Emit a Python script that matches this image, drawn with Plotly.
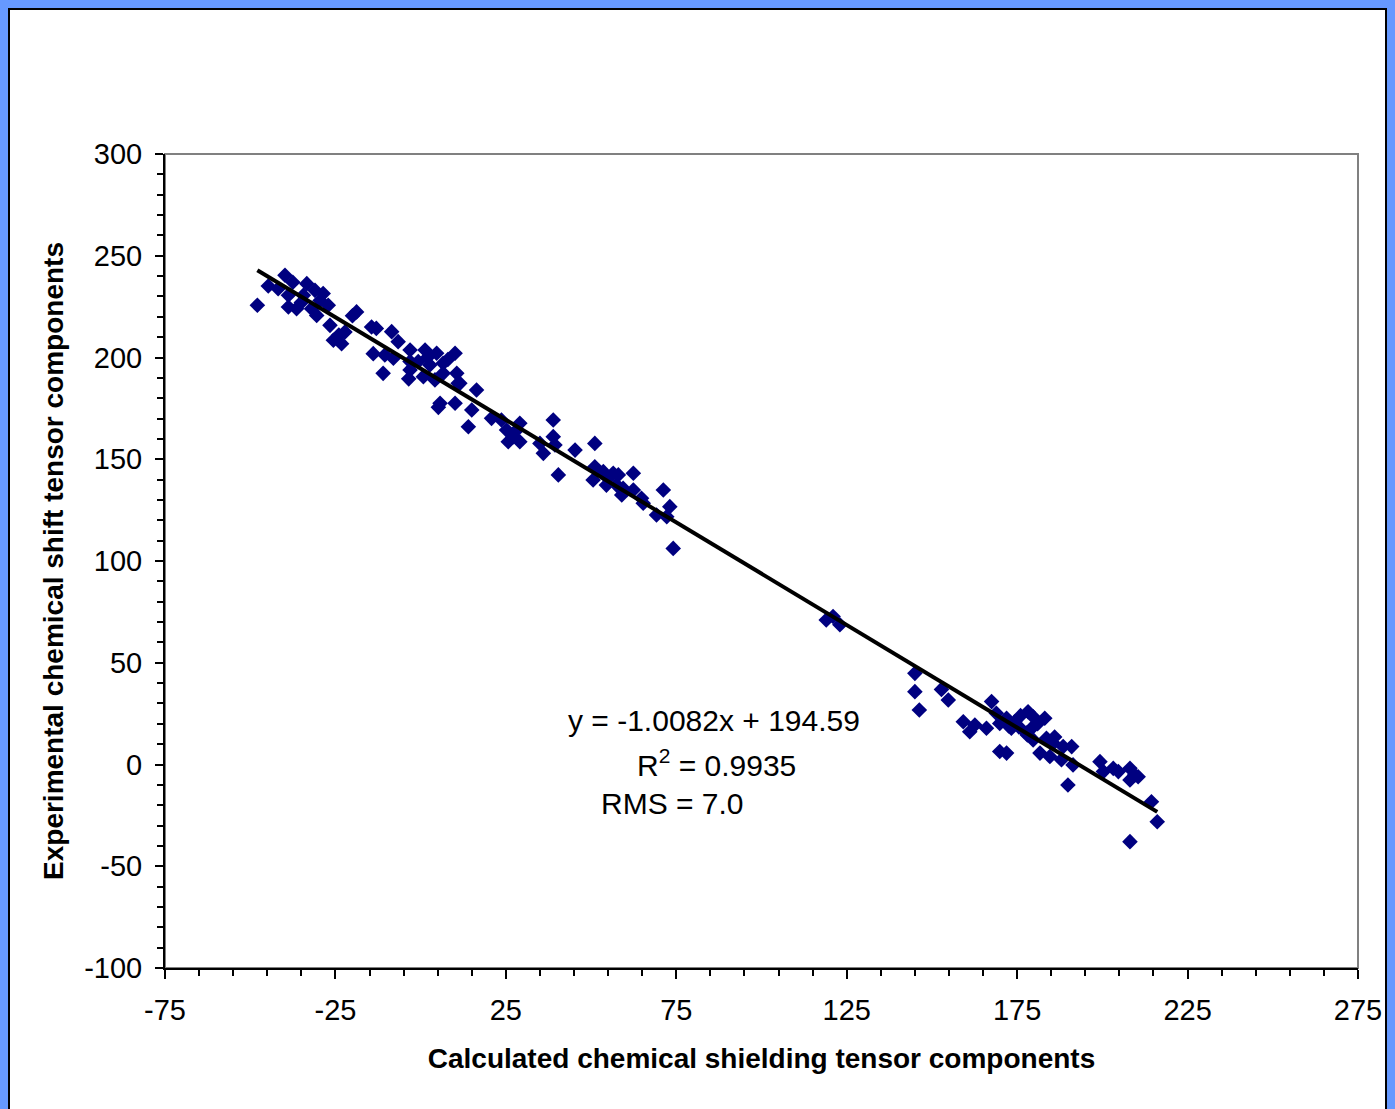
import plotly.graph_objects as go

# Calculated shielding (x) vs experimental shift (y)
x_vals = [
    -47.9, -44.7, -39.8, -41.8, -38.8, -33.4, -34.4, -28.6, -36.4, -38.8, -32.0, -27.1, -30.5,
    -26.6, -18.8, -22.2, -25.6, -23.2, -14.4, -13.9, -37.5, -31.0, -29.5, -35.0, -20.0, -24.0,
    -13.0, -8.5, -6.6, -10.5, -8.0, -11.0, -3.1, 1.3, 4.7, 10.1, -0.7, 2.7, -3.1, 0.8, 4.2,
    6.6, 10.6, 11.0, 5.7, 10.1, 16.4, 15.0, -3.1, 6.6, -3.5, 5.2, 2.0, 8.0,
    11.5, 14.0, 20.8, 23.7, 29.1, 25.2, 27.7, 25.7, 29.1, 27.2, 35.0, 36.0, 38.9, 38.9, 39.4,
    40.4, 45.3, 51.1, 51.1, 50.6, 53.6, 55.0, 56.5, 58.0, 54.5, 57.5, 59.4, 59.0, 62.4, 62.4,
    64.8, 65.3, 71.2, 69.2, 73.1, 72.2, 74.1,
    119.0, 121.0, 123.0,
    145.0, 145.0, 146.3, 152.8, 154.8, 167.5, 159.2, 161.1, 162.6, 166.0, 168.9, 169.9, 171.9,
    173.3, 174.3, 178.2, 179.7, 183.1, 179.7, 177.7, 179.7, 183.6, 185.6, 188.5, 191.0, 169.9,
    171.9, 181.7, 184.6, 188.0, 191.4, 189.9, 199.3, 200.3, 203.2, 204.7, 208.1, 209.5, 208.1,
    210.5, 214.4, 216.1, 208.1, 172.5, 175.5, 176.0, 181.0, 186.0, 178.0,
]
y_vals = [
    225.7, 235.1, 240.4, 233.8, 230.6, 236.3, 230.6, 231.4, 224.0, 224.8, 224.0, 225.7, 220.7,
    215.8, 222.4, 212.5, 208.5, 206.8, 215.0, 201.9, 237.0, 233.0, 228.0, 227.0, 220.5, 211.0,
    214.3, 212.7, 207.8, 201.2, 199.6, 192.2, 203.7, 203.7, 202.1, 202.1, 198.0, 196.3, 193.9,
    190.6, 189.0, 192.2, 192.2, 187.3, 177.5, 177.5, 184.0, 174.2, 198.0, 197.2, 189.5, 175.5,
    200.0, 199.0,
    187.3, 166.0, 170.1, 169.3, 167.7, 164.4, 163.5, 158.6, 158.6, 161.1, 157.8, 152.9, 169.3,
    161.1, 157.0, 142.3, 154.5, 157.8, 146.3, 139.8, 143.9, 140.6, 143.1, 142.3, 137.3, 137.3,
    135.7, 132.4, 143.1, 134.9, 130.8, 128.4, 134.9, 122.6, 126.7, 121.8, 106.2,
    71.0, 72.7, 68.7,
    44.8, 35.8, 26.8, 36.9, 31.7, 30.9, 21.0, 16.1, 19.4, 17.8, 25.2, 20.2, 22.7,
    17.8, 21.0, 25.9, 23.5, 22.7, 18.6, 15.4, 12.1, 12.9, 10.5, 8.8, 8.8, 6.4,
    5.6, 5.6, 3.9, 2.3, -0.2, -10.1, 1.4, -3.5, -1.9, -3.5, -1.9, -5.2, -7.6,
    -6.0, -18.3, -28.1, -37.9, 19.0, 18.5, 24.0, 20.0, 13.5, 14.5,
]

x_ticks = [-75, -25, 25, 75, 125, 175, 225, 275]
x_ticklabels = ["-75", "-25", "25", "75", "125", "175", "225", "275"]
y_ticks = [-100, -50, 0, 50, 100, 150, 200, 250, 300]
y_ticklabels = ["-100", "-50", "0", "50", "100", "150", "200", "250", "300"]

slope = -1.0082
intercept = 194.59
eq_lines = ["y = -1.0082x + 194.59", "R<sup>2</sup> = 0.9935", "RMS = 7.0"]

x_line = [min(x_vals), max(x_vals)]
y_line = [slope * v + intercept for v in x_line]

FONT = "Arial, 'Liberation Sans', sans-serif"

fig = go.Figure()
fig.add_trace(go.Scatter(
    x=x_vals, y=y_vals, mode="markers",
    marker=dict(symbol="diamond", size=12, color="#000080", line=dict(width=0)),
    showlegend=False,
))
fig.add_trace(go.Scatter(
    x=x_line, y=y_line, mode="lines",
    line=dict(color="black", width=4), showlegend=False,
))

W, H = 1395, 1109
L, R, T, B = 165, 37, 154, 141
pw, ph = W - L - R, H - T - B

def px(xp):
    return (xp - L) / pw

def py(yp):
    return 1 - (yp - T) / ph

shapes = [
    dict(type="rect", xref="paper", yref="paper", x0=px(9), x1=px(1386), y0=py(1130), y1=py(9),
         fillcolor="white", line=dict(color="black", width=2), layer="below"),
    dict(type="rect", xref="paper", yref="paper", x0=0, x1=1, y0=0, y1=1,
         line=dict(color="#808080", width=2), layer="below"),
]

annotations = [
    dict(xref="paper", yref="paper", x=px(714), y=py(720), text=eq_lines[0], showarrow=False,
         font=dict(size=30, color="black", family=FONT), xanchor="center", yanchor="middle"),
    dict(xref="paper", yref="paper", x=px(716), y=py(763), text=eq_lines[1], showarrow=False,
         font=dict(size=30, color="black", family=FONT), xanchor="center", yanchor="middle"),
    dict(xref="paper", yref="paper", x=px(672), y=py(803), text=eq_lines[2], showarrow=False,
         font=dict(size=30, color="black", family=FONT), xanchor="center", yanchor="middle"),
]

fig.update_layout(
    width=W, height=H,
    margin=dict(l=L, r=R, t=T, b=B, autoexpand=False),
    paper_bgcolor="#6699FF", plot_bgcolor="white",
    font=dict(family=FONT, color="black"),
    shapes=shapes, annotations=annotations,
    xaxis=dict(
        range=[-75, 275], tickmode="array", tickvals=x_ticks, ticktext=x_ticklabels,
        showgrid=False, zeroline=False,
        showline=True, linecolor="black", linewidth=2,
        ticks="outside", ticklen=9, tickwidth=2, tickcolor="black", ticklabelstandoff=6,
        minor=dict(ticks="outside", dtick=10, tick0=-75, ticklen=6, tickwidth=2, tickcolor="black", showgrid=False),
        tickfont=dict(size=29, family=FONT, color="black"),
        title=dict(text="<b>Calculated chemical shielding tensor components</b>",
                   font=dict(size=28, family=FONT, color="black"), standoff=24),
        automargin=False,
    ),
    yaxis=dict(
        range=[-100, 300], tickmode="array", tickvals=y_ticks, ticktext=y_ticklabels,
        showgrid=False, zeroline=False,
        showline=True, linecolor="black", linewidth=2,
        ticks="outside", ticklen=8, tickwidth=2, tickcolor="black", ticklabelstandoff=7,
        minor=dict(ticks="outside", dtick=10, tick0=-100, ticklen=6, tickwidth=2, tickcolor="black", showgrid=False),
        tickfont=dict(size=29, family=FONT, color="black"),
        title=dict(text="<b>Experimental chemical shift tensor components</b>",
                   font=dict(size=28, family=FONT, color="black"), standoff=12),
        automargin=False,
    ),
)

fig.write_html("out.html", post_script="document.body.style.margin='0';",
               config={"displayModeBar": False})
